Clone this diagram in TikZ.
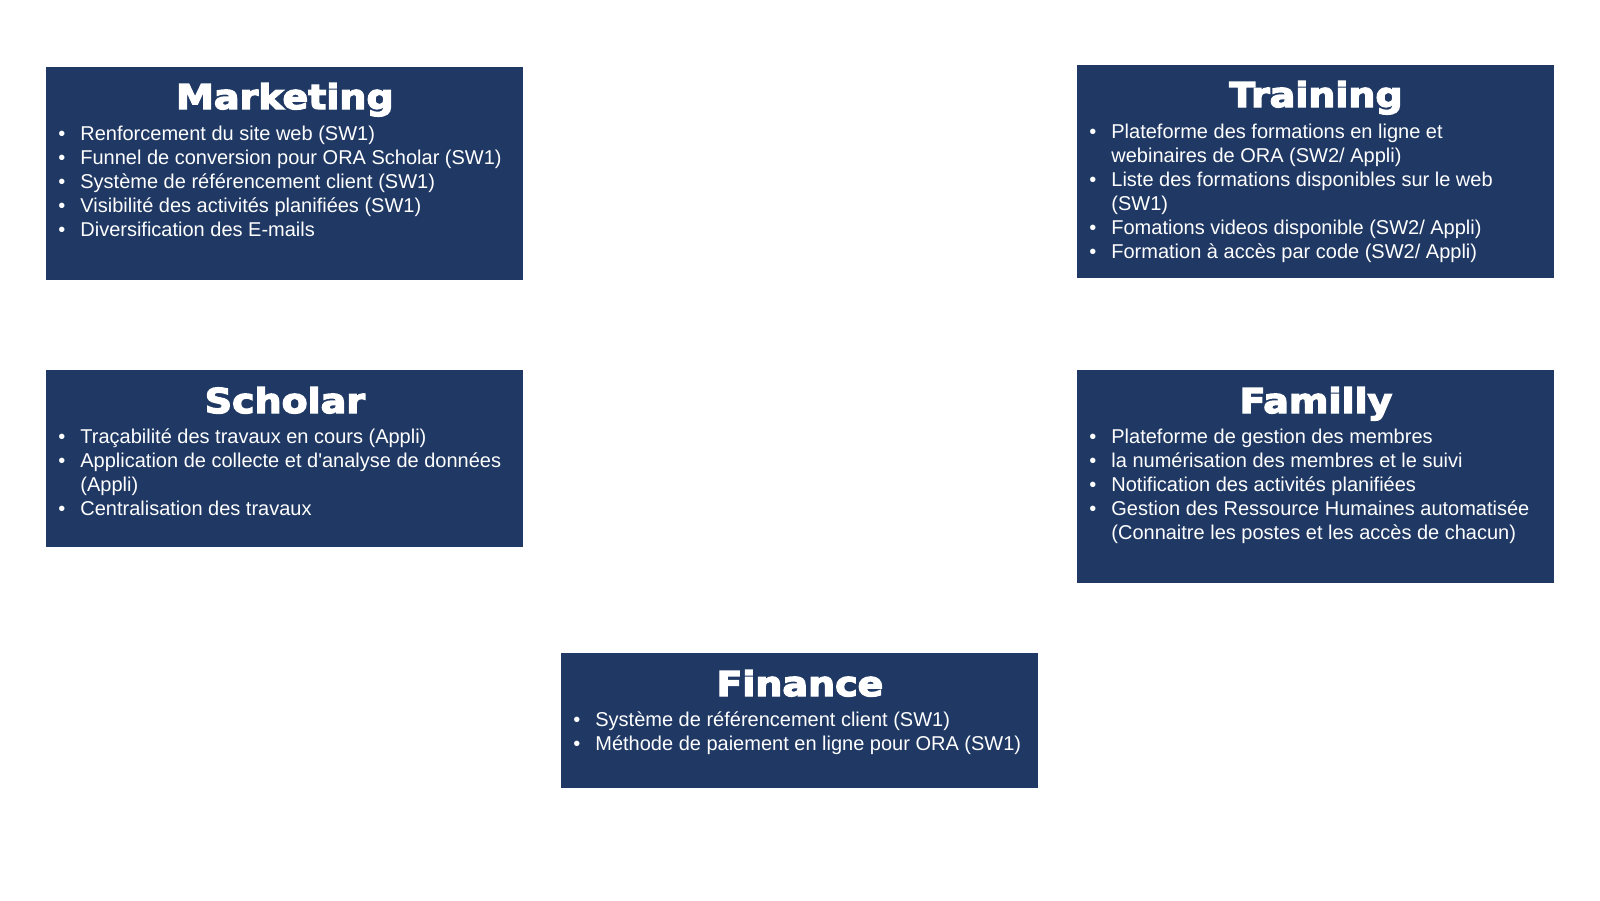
\documentclass[tikz,border=0pt]{standalone}
\usepackage{fontspec}
\setmainfont{Liberation Sans}[Ligatures=TeXOff]
\newfontfamily\titlefont{DejaVu Sans Bold}[FakeStretch=1.11, FakeBold=4]
\definecolor{panelblue}{HTML}{1F3864}
\tikzset{
  panelbox/.style={fill=panelblue, draw=none, anchor=north west, inner sep=0pt,
    minimum width=238.5pt},
  paneltitle/.style={anchor=base, inner sep=0pt, text=white,
    font={\titlefont\fontsize{17.1pt}{20pt}\selectfont}},
  panellist/.style={anchor=base west, inner sep=0pt, text=white, align=left,
    font={\fontsize{10pt}{12pt}\selectfont}},
}
% one list column for the bullet, one for the item text
\newenvironment{bulletlist}{\begin{tabular}[t]{@{}p{11pt}@{}l@{}}}{\end{tabular}}
\begin{document}
\begin{tikzpicture}[x=0.5pt, y=-0.5pt]
\useasboundingbox (0,0) rectangle (1600,900);

% ---------- Marketing ----------
\node[panelbox, minimum height=106.5pt] (mkt) at (46,67) {};
\node[paneltitle] (mkt-t) at ([yshift=-21pt]mkt.north) {Marketing};
\node[panellist] (mkt-l) at ([xshift=6pt, yshift=-36.5pt]mkt.north west) {%
\begin{bulletlist}
\textbullet & Renforcement du site web (SW1)\\
\textbullet & Funnel de conversion pour ORA Scholar (SW1)\\
\textbullet & Système de référencement client (SW1)\\
\textbullet & Visibilité des activités planifiées (SW1)\\
\textbullet & Diversification des E-mails
\end{bulletlist}};

% ---------- Training ----------
\node[panelbox, minimum height=106.5pt] (trn) at (1077,65) {};
\node[paneltitle] (trn-t) at ([yshift=-21pt]trn.north) {Training};
\node[panellist] (trn-l) at ([xshift=6pt, yshift=-36.5pt]trn.north west) {%
\begin{bulletlist}
\textbullet & Plateforme des formations en ligne et\\
 & webinaires de ORA (SW2/ Appli)\\
\textbullet & Liste des formations disponibles sur le web\\
 & (SW1)\\
\textbullet & Fomations videos disponible (SW2/ Appli)\\
\textbullet & Formation à accès par code (SW2/ Appli)
\end{bulletlist}};

% ---------- Scholar ----------
\node[panelbox, minimum height=88.5pt] (sch) at (46,370) {};
\node[paneltitle] (sch-t) at ([yshift=-21.5pt]sch.north) {Scholar};
\node[panellist] (sch-l) at ([xshift=6pt, yshift=-36.5pt]sch.north west) {%
\begin{bulletlist}
\textbullet & Traçabilité des travaux en cours (Appli)\\
\textbullet & Application de collecte et d'analyse de données\\
 & (Appli)\\
\textbullet & Centralisation des travaux
\end{bulletlist}};

% ---------- Familly ----------
\node[panelbox, minimum height=106.5pt] (fam) at (1077,370) {};
\node[paneltitle] (fam-t) at ([yshift=-21.5pt]fam.north) {Familly};
\node[panellist] (fam-l) at ([xshift=6pt, yshift=-36.5pt]fam.north west) {%
\begin{bulletlist}
\textbullet & Plateforme de gestion des membres\\
\textbullet & la numérisation des membres et le suivi\\
\textbullet & Notification des activités planifiées\\
\textbullet & Gestion des Ressource Humaines automatisée\\
 & (Connaitre les postes et les accès de chacun)
\end{bulletlist}};

% ---------- Finance ----------
\node[panelbox, minimum height=67.5pt] (fin) at (561,653) {};
\node[paneltitle] (fin-t) at ([yshift=-21.5pt]fin.north) {Finance};
\node[panellist] (fin-l) at ([xshift=6pt, yshift=-36.5pt]fin.north west) {%
\begin{bulletlist}
\textbullet & Système de référencement client (SW1)\\
\textbullet & Méthode de paiement en ligne pour ORA (SW1)
\end{bulletlist}};
\end{tikzpicture}
\end{document}
